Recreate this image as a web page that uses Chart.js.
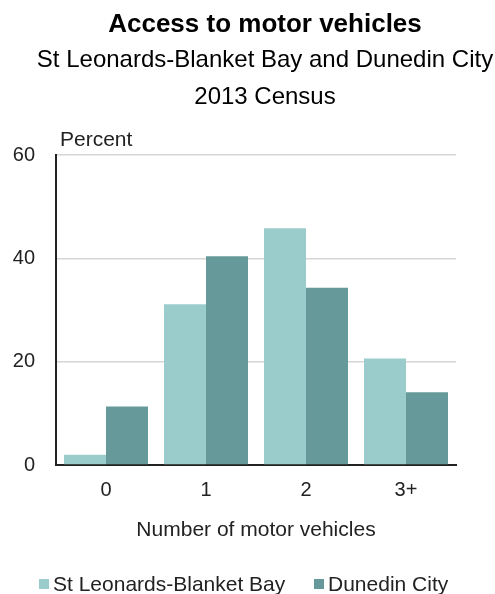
<!DOCTYPE html>
<html>
<head>
<meta charset="utf-8">
<script src="https://cdn.jsdelivr.net/npm/chart.js@4/dist/chart.umd.min.js"></script>
<style>
  html, body { margin: 0; padding: 0; background: #fff; }
  #wrap { width: 495px; height: 594px; }
</style>
</head>
<body>
<div id="wrap"><canvas id="chart" width="495" height="594"></canvas></div>
<script>
// Data (percent of households)
const categories = ["0", "1", "2", "3+"];
const seriesNames = ["St Leonards-Blanket Bay", "Dunedin City"];
const stLeonards = [2.0, 31.1, 45.8, 20.6];
const dunedin = [11.3, 40.4, 34.3, 14.1];
const seriesColors = ["#9acccc", "#669999"];

const titleText = "Access to motor vehicles";
const subtitleLines = ["St Leonards-Blanket Bay and Dunedin City", "2013 Census"];
const yUnitLabel = "Percent";
const xAxisTitle = "Number of motor vehicles";

const FONT = "'Liberation Sans', Arial, sans-serif";

// Titles, "Percent" and the legend are drawn by hand so they sit where the original has them
const headerText = {
    id: "headerText",
    afterDraw(chart) {
        const ctx = chart.ctx;
        ctx.save();
        ctx.fillStyle = "#000";
        ctx.textAlign = "center";
        ctx.textBaseline = "middle";
        ctx.font = "bold 26px " + FONT;
        ctx.fillText(titleText, 265, 25);
        ctx.font = "24px " + FONT;
        ctx.fillText(subtitleLines[0], 265, 60);
        ctx.fillText(subtitleLines[1], 265, 97);
        ctx.fillStyle = "#222";
        ctx.textAlign = "left";
        ctx.font = "21px " + FONT;
        ctx.fillText(yUnitLabel, 60, 140);

        // legend
        const legendX = [39, 314];
        chart.data.datasets.forEach((ds, i) => {
            ctx.fillStyle = ds.backgroundColor;
            ctx.fillRect(legendX[i], 579, 10, 10);
            ctx.fillStyle = "#222";
            ctx.fillText(ds.label, legendX[i] + 14, 585);
        });
        ctx.restore();
    }
};

new Chart(document.getElementById("chart"), {
    type: "bar",
    data: {
        labels: categories,
        datasets: [{
            label: seriesNames[0],
            data: stLeonards,
            backgroundColor: seriesColors[0],
            borderWidth: 0
        }, {
            label: seriesNames[1],
            data: dunedin,
            backgroundColor: seriesColors[1],
            borderWidth: 0
        }]
    },
    options: {
        responsive: false,
        animation: false,
        datasets: {
            bar: { categoryPercentage: 0.84, barPercentage: 1.0 }
        },
        layout: {
            padding: { top: 155, right: 39, left: 0, bottom: 44 }
        },
        scales: {
            x: {
                grid: { display: false, drawTicks: false },
                border: { display: true, color: "#222", width: 2 },
                ticks: {
                    color: "#222",
                    padding: 13,
                    font: { family: FONT, size: 20 }
                },
                title: {
                    display: true,
                    text: xAxisTitle,
                    color: "#222",
                    font: { family: FONT, size: 21 },
                    padding: { top: 0, bottom: 7 }
                },
                afterFit(scale) { scale.height = 85; }
            },
            y: {
                min: 0,
                max: 60,
                grid: { color: "#d6d6d6", lineWidth: 1.5, drawTicks: false },
                border: { display: true, color: "#222", width: 2 },
                ticks: {
                    stepSize: 20,
                    color: "#222",
                    padding: 21,
                    font: { family: FONT, size: 20 }
                },
                afterFit(scale) { scale.width = 56; }
            }
        },
        plugins: {
            title: { display: false },
            tooltip: { enabled: false },
            legend: { display: false }
        }
    },
    plugins: [headerText]
});
</script>
</body>
</html>
